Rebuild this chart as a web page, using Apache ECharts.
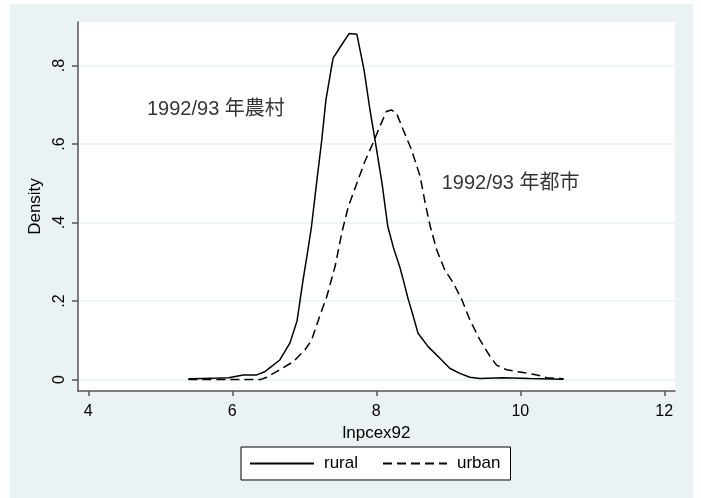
<!DOCTYPE html>
<html>
<head>
<meta charset="utf-8">
<script src="https://cdn.jsdelivr.net/npm/echarts@6/dist/echarts.min.js"></script>
<style>
html,body{margin:0;padding:0;background:#fff;}
#c{width:701px;height:498px;}
</style>
</head>
<body>
<div id="c"></div>
<script>
// ---- data ----
const ruralX = [5.39,5.6,5.8,5.95,6.15,6.34,6.45,6.52,6.66,6.80,6.90,6.98,7.05,7.10,7.17,7.24,7.30,7.40,7.52,7.625,7.73,7.83,7.91,7.98,8.08,8.16,8.24,8.33,8.375,8.44,8.50,8.58,8.72,8.88,9.02,9.16,9.30,9.44,9.76,10.13,10.6];
const ruralY = [0.002,0.003,0.004,0.005,0.012,0.012,0.02,0.03,0.05,0.093,0.15,0.25,0.33,0.39,0.50,0.606,0.712,0.819,0.853,0.882,0.880,0.789,0.69,0.613,0.50,0.39,0.335,0.285,0.254,0.207,0.17,0.118,0.084,0.055,0.029,0.016,0.006,0.003,0.005,0.003,0.001];
const urbanX = [5.39,6.0,6.39,6.48,6.66,6.85,7.01,7.10,7.22,7.31,7.43,7.52,7.61,7.73,7.84,7.96,8.05,8.14,8.21,8.28,8.375,8.49,8.61,8.68,8.75,8.84,8.95,9.07,9.19,9.30,9.44,9.58,9.67,9.81,10.04,10.23,10.37,10.6];
const urbanY = [0.0,0.0,0.0,0.006,0.025,0.046,0.076,0.10,0.165,0.21,0.29,0.373,0.44,0.50,0.555,0.605,0.645,0.683,0.687,0.679,0.636,0.585,0.517,0.449,0.39,0.33,0.28,0.246,0.203,0.152,0.101,0.059,0.037,0.025,0.018,0.012,0.005,0.002];
const xTicks = [4,6,8,10,12];
const yTicks = [0,0.2,0.4,0.6,0.8];
const seriesNames = ['rural','urban'];
const notes = [
  {text:'1992/93 年農村', x:4.815, y:0.687},
  {text:'1992/93 年都市', x:8.908, y:0.50}
];
const xTitle = 'lnpcex92';
const yTitle = 'Density';

const pairs = (xs, ys) => xs.map((x,i)=>[x, ys[i]]);
const FONT = "'Liberation Sans', Arial, 'Noto Sans CJK JP', sans-serif";
const AX = '#555';

const chart = echarts.init(document.getElementById('c'), null, {renderer:'canvas'});
chart.setOption({
  animation:false,
  backgroundColor:'#fff',
  textStyle:{fontFamily:FONT},
  graphic:[{type:'rect', z:-10, silent:true, shape:{x:10,y:4,width:683,height:494}, style:{fill:'#EAF2F3'}}],
  grid:{left:78, top:22, right:26, bottom:107, show:true, backgroundColor:'#fff', borderWidth:0, containLabel:false},
  xAxis:{
    type:'value', min:3.857, max:12.149,
    name:xTitle, nameLocation:'middle', nameGap:28,
    nameTextStyle:{fontSize:17, color:'#000', fontFamily:FONT},
    axisLine:{show:true, onZero:false, lineStyle:{color:AX, width:1.5}},
    axisTick:{show:true, length:5, customValues:xTicks, lineStyle:{color:AX, width:1.5}},
    axisLabel:{customValues:xTicks, fontSize:16, color:'#000', margin:13, fontFamily:FONT},
    splitLine:{show:false}
  },
  yAxis:{
    type:'value', min:-0.029, max:0.911,
    name:yTitle, nameLocation:'middle', nameGap:26, nameRotate:90,
    nameTextStyle:{fontSize:17, color:'#000', fontFamily:FONT},
    axisLine:{show:true, onZero:false, lineStyle:{color:AX, width:1.5}},
    axisTick:{show:true, length:6, customValues:yTicks, lineStyle:{color:AX, width:1.5}},
    axisLabel:{customValues:yTicks, rotate:90, fontSize:16, color:'#000', margin:10, fontFamily:FONT,
      formatter:v=> v===0 ? '0' : String(Math.round(v*10)/10).replace(/^0/,'')},
    splitLine:{show:true, lineStyle:{color:'#EAF2F3', width:1.5}}
  },
  legend:{
    data:seriesNames, left:241, top:447, orient:'horizontal',
    padding:[8,10,8,8], borderColor:'#000', borderWidth:1, backgroundColor:'#fff', borderRadius:0,
    itemWidth:64, itemHeight:14, itemGap:24,
    itemStyle:{opacity:0},
    textStyle:{fontSize:17, color:'#000', fontFamily:FONT, padding:[0,0,0,5]}
  },
  series:[
    {name:seriesNames[0], type:'line', data:pairs(ruralX, ruralY), symbol:'none', showSymbol:false, smooth:false,
      lineStyle:{color:'#000', width:1.5, type:'solid'}, itemStyle:{color:'#000'}},
    {name:seriesNames[1], type:'line', data:pairs(urbanX, urbanY), symbol:'none', showSymbol:false, smooth:false,
      lineStyle:{color:'#000', width:1.5, type:[9,5]}, itemStyle:{color:'#000'}},
    {name:'notes', type:'scatter', symbolSize:0, silent:true,
      data:notes.map(n=>({value:[n.x,n.y], label:{formatter:n.text}})),
      label:{show:true, position:'right', distance:0, fontSize:20, color:'#000', fontFamily:FONT}}
  ]
});
</script>
</body>
</html>
